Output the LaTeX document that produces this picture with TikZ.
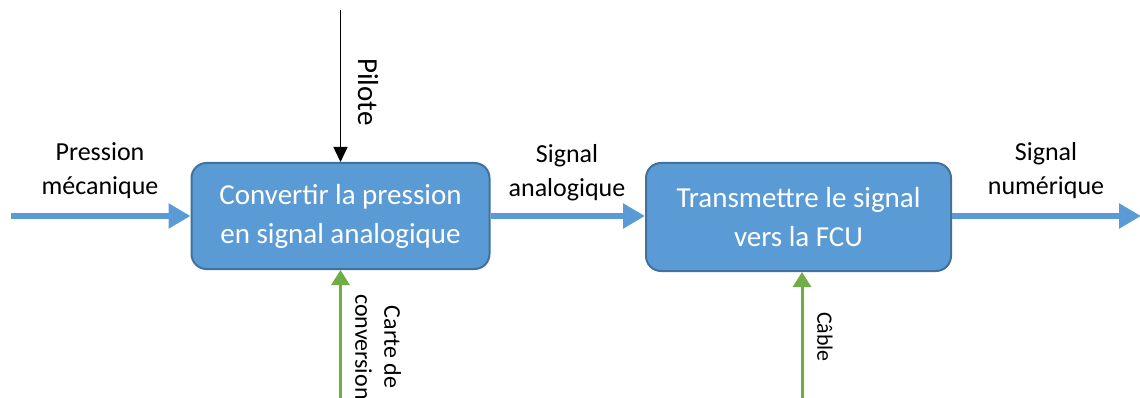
\documentclass[tikz,border=0pt]{standalone}
\usepackage{fontspec}
\setmainfont{Carlito}
\usetikzlibrary{arrows.meta}
\definecolor{boxfill}{HTML}{5B9BD5}
\definecolor{boxline}{HTML}{41719C}
\definecolor{flowblue}{HTML}{5B9BD5}
\definecolor{grn}{HTML}{70AD47}
\begin{document}
\begin{tikzpicture}[x=1pt,y=-1pt,
  procbox/.style={draw=boxline, line width=2pt, fill=boxfill, rounded corners=15pt,
    minimum width=298pt, minimum height=106pt, inner sep=0pt, text=white, align=center,
    font=\fontsize{29}{39}\selectfont},
  lbl/.style={align=center, inner sep=0pt, font=\fontsize{26}{34}\selectfont},
  vlbl/.style={align=center, inner sep=0pt, rotate=-90},
  flow/.style={draw=flowblue, line width=6.5pt, -{Triangle[length=22pt,width=24pt]}},
  ctrl/.style={draw=black, line width=1.6pt, -{Triangle[length=15pt,width=14pt]}},
  mech/.style={draw=grn, line width=3pt, -{Triangle[length=15pt,width=18pt]}}
]
\useasboundingbox (0,0) rectangle (1140,398);
\clip (0,0) rectangle (1140,398);

\node[procbox] (b1) at (340.5,216) {Convertir la pression\\en signal analogique};
\node[procbox, minimum width=305pt, minimum height=108pt] (b2) at (798.5,217) {Transmettre le signal\\vers la FCU};

\node[lbl] (l1) at (100,171) {Pression\\mécanique};
\node[lbl] (l2) at (567,173) {Signal\\analogique};
\node[lbl] (l3) at (1046,171) {Signal\\numérique};

\coordinate (in1) at (11,216);
\coordinate (out3) at (1141,216);
\coordinate (ptop) at (340.5,10);
\coordinate (gbot1) at (340.5,400);
\coordinate (gbot2) at (802,400);

\draw[flow] (in1) -- (in1 -| b1.west);
\draw[flow] (b1.east) -- (b1.east -| b2.west);
\draw[flow] (b2.east |- out3) -- (out3);
\draw[ctrl] (ptop) -- (b1.north);
\draw[mech] (gbot1) -- (b1.south);
\draw[mech] (gbot2) -- (gbot2 |- b2.south);

\node[vlbl, font=\fontsize{29}{34}\selectfont] (pil) at (368,92) {Pilote};
\node[vlbl, font=\fontsize{24}{29}\selectfont] (carte) at (378,347) {Carte de\\conversion};
\node[vlbl, font=\fontsize{22}{26}\selectfont] (cab) at (825,337) {Câble};
\end{tikzpicture}
\end{document}
